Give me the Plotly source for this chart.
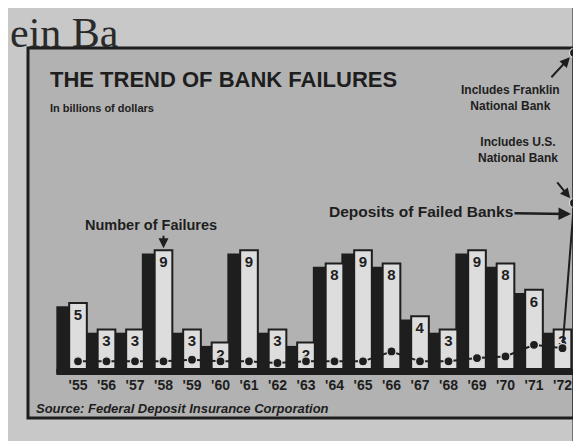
import plotly.graph_objects as go

# ---------------- data ----------------
years = [1955, 1956, 1957, 1958, 1959, 1960, 1961, 1962, 1963,
         1964, 1965, 1966, 1967, 1968, 1969, 1970, 1971, 1972]
year_labels = ["'55", "'56", "'57", "'58", "'59", "'60", "'61", "'62", "'63",
               "'64", "'65", "'66", "'67", "'68", "'69", "'70", "'71", "'72"]
failures = [5, 3, 3, 9, 3, 2, 9, 3, 2, 8, 9, 8, 4, 3, 9, 8, 6, 3]

deposit_years = years + [1973, 1974]
deposits = [0.01, 0.01, 0.01, 0.01, 0.02, 0.01, 0.01, 0.00, 0.01,
            0.01, 0.01, 0.07, 0.01, 0.01, 0.03, 0.04, 0.11, 0.09,
            0.97, 1.88]   # billions of dollars

# ---------------- layout geometry ----------------
W, H = 581, 441
PITCH = 28.5             # px per year
FIRST_CENTER_PX = 70     # px of the first white bar centre
BASE_PX = 361            # px of the bar baseline
UNIT_PX = 13.2           # px per failure
DEP_ZERO_PX = 355
DEP_UNIT_PX = 165        # px per billion
RULE_PX = 566
BOX_TOP_PX = 40

def px_x(p):
    return p / W

def px_y(p):
    return 1 - p / H

WHITE_OFF, WHITE_W = 0.0, 0.62
DARK_OFF, DARK_W = -0.45, 0.5
centre = WHITE_OFF + WHITE_W / 2

x0 = years[0] + centre - FIRST_CENTER_PX / PITCH
x_range = [x0, x0 + W / PITCH]
rule_x = x0 + RULE_PX / PITCH
y_range = [-(H - BASE_PX) / UNIT_PX, BASE_PX / UNIT_PX]
y2_range = [-(H - DEP_ZERO_PX) / DEP_UNIT_PX, DEP_ZERO_PX / DEP_UNIT_PX]

SANS = "Liberation Sans Narrow, Arial Narrow, Liberation Sans, Arial, sans-serif"
SERIF = "Liberation Serif, Times New Roman, DejaVu Serif, serif"
INK = "#1e1e1e"
PAPER = "#c8c8c8"
BOX = "#b2b2b2"
BARFILL = "#dddddd"

fig = go.Figure()

# dark "side" blocks
fig.add_trace(go.Bar(
    x=years, y=[v + 0.1 for v in failures], base=-0.35,
    offset=DARK_OFF, width=DARK_W,
    marker=dict(color=INK, line=dict(width=0)),
    hoverinfo="skip", showlegend=False))

# white front faces with the counts
fig.add_trace(go.Bar(
    x=years, y=failures, offset=WHITE_OFF, width=WHITE_W,
    marker=dict(color=BARFILL, line=dict(color=INK, width=2)),
    text=[str(v) for v in failures], textposition="inside",
    insidetextanchor="end", textangle=0,
    textfont=dict(family=SANS, size=15, color=INK, weight="bold"),
    hoverinfo="skip", showlegend=False))

# deposits line
dep_x = [y + centre if y <= years[-1] else rule_x for y in deposit_years]
fig.add_trace(go.Scatter(
    x=dep_x, y=deposits, yaxis="y2", mode="lines+markers",
    line=dict(color=INK, width=2),
    marker=dict(size=9, color=INK, line=dict(color="#dcdcdc", width=1.2)),
    hoverinfo="skip", showlegend=False))

shapes = [
    # chart box
    dict(type="rect", xref="paper", yref="paper",
         x0=px_x(20), x1=px_x(RULE_PX), y0=px_y(410), y1=px_y(BOX_TOP_PX),
         fillcolor=BOX, line=dict(color=INK, width=3), layer="below"),
    # floor band
    dict(type="rect", xref="x", yref="y",
         x0=years[0] + DARK_OFF, x1=rule_x, y0=-0.45, y1=0,
         fillcolor=INK, line=dict(width=0), layer="below"),
    # column rule on the right
    dict(type="line", xref="paper", yref="paper",
         x0=px_x(RULE_PX), x1=px_x(RULE_PX), y0=0, y1=1,
         line=dict(color=INK, width=3)),
]

ann = []
# headline fragment of the newspaper page
ann.append(dict(xref="paper", yref="paper", x=px_x(0), y=1,
                xanchor="left", yanchor="top", showarrow=False,
                text="ein Ba", font=dict(family=SERIF, size=42, color="#2a2a2a")))
ann.append(dict(xref="paper", yref="paper", x=px_x(40), y=px_y(72),
                xanchor="left", yanchor="middle", showarrow=False,
                text="<b>THE TREND OF BANK FAILURES</b>",
                font=dict(family=SANS, size=22, color=INK)))
ann.append(dict(xref="paper", yref="paper", x=px_x(40), y=px_y(100),
                xanchor="left", yanchor="middle", showarrow=False,
                text="<b>In billions of dollars</b>",
                font=dict(family=SANS, size=11, color=INK)))
ann.append(dict(xref="paper", yref="paper", x=px_x(502), y=px_y(90),
                xanchor="center", yanchor="middle", showarrow=False,
                text="<b>Includes Franklin<br>National Bank</b>",
                font=dict(family=SANS, size=12, color=INK)))
ann.append(dict(xref="paper", yref="paper", x=px_x(510), y=px_y(142),
                xanchor="center", yanchor="middle", showarrow=False,
                text="<b>Includes U.S.<br>National Bank</b>",
                font=dict(family=SANS, size=12, color=INK)))
# arrows to the two large deposit points
ann.append(dict(xref="x", yref="y2", x=rule_x, y=deposits[-1], text="",
                showarrow=True, ax=-24, ay=26, arrowhead=2, arrowsize=1,
                arrowwidth=2, arrowcolor=INK, standoff=6))
ann.append(dict(xref="x", yref="y2", x=rule_x, y=deposits[-2], text="",
                showarrow=True, ax=-18, ay=-22, arrowhead=2, arrowsize=1,
                arrowwidth=2, arrowcolor=INK, standoff=6))
# series labels
ann.append(dict(xref="paper", yref="paper", x=px_x(563), y=px_y(206),
                ax=-150, ay=-2, text="<b>Deposits of Failed Banks</b>",
                showarrow=True, arrowhead=2, arrowsize=1, arrowwidth=2.5,
                arrowcolor=INK, font=dict(family=SANS, size=15.5, color=INK)))
ann.append(dict(xref="paper", yref="paper", x=px_x(143), y=px_y(217),
                xanchor="center", yanchor="middle", showarrow=False,
                text="<b>Number of Failures</b>",
                font=dict(family=SANS, size=14.5, color=INK)))
i58 = years.index(1958)
ann.append(dict(xref="x", yref="y", x=years[i58] + centre, y=failures[i58],
                text="", showarrow=True, ax=0, ay=-16, arrowhead=2,
                arrowsize=1, arrowwidth=2, arrowcolor=INK, standoff=2))
ann.append(dict(xref="paper", yref="paper", x=px_x(26), y=px_y(400),
                xanchor="left", yanchor="middle", showarrow=False,
                text="<b><i>Source: Federal Deposit Insurance Corporation</i></b>",
                font=dict(family=SANS, size=13, color=INK)))
# fragments of the neighbouring text column
for frag, ypx in [("v", 318), ("c", 332), ("a", 382), ("p", 396), ("c", 410), ("o", 423)]:
    ann.append(dict(xref="paper", yref="paper", x=px_x(569), y=px_y(ypx),
                    xanchor="left", yanchor="middle", showarrow=False,
                    borderpad=0, borderwidth=0,
                    text=frag, font=dict(family=SERIF, size=9, color="#2a2a2a")))

fig.update_layout(
    width=W, height=H, margin=dict(l=0, r=0, t=0, b=0),
    paper_bgcolor=PAPER, plot_bgcolor="rgba(0,0,0,0)",
    barmode="overlay", showlegend=False,
    xaxis=dict(range=x_range, domain=[0, 1], anchor="free",
               position=px_y(BASE_PX + 6),
               tickvals=[y + centre for y in years], ticktext=year_labels,
               ticks="", showgrid=False, zeroline=False, showline=False,
               tickfont=dict(family=SANS, size=14, color=INK, weight="bold"),
               fixedrange=True),
    yaxis=dict(range=y_range, domain=[0, 1], visible=False, fixedrange=True),
    yaxis2=dict(range=y2_range, overlaying="y", visible=False, fixedrange=True),
    shapes=shapes, annotations=ann,
)

fig.write_html("out.html")
